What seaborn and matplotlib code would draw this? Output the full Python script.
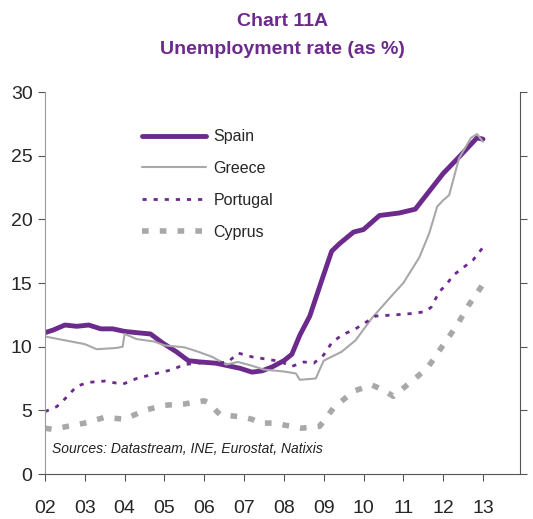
import numpy as np
import pandas as pd
import seaborn as sns
import matplotlib.pyplot as plt

sns.set_style("ticks")
plt.rcParams['font.family'] = ['Liberation Sans Narrow', 'Liberation Sans', 'DejaVu Sans']

PURPLE = "#6B2A8C"
GREY = "#A8A8A8"

# values (year, unemployment %)
spain_x = [2002.0, 2002.2, 2002.5, 2002.8, 2003.1, 2003.4, 2003.7, 2004.0, 2004.3, 2004.65,
           2004.95, 2005.3, 2005.6, 2005.9, 2006.3, 2006.6, 2006.9, 2007.2, 2007.45, 2007.7,
           2008.0, 2008.2, 2008.4, 2008.65, 2008.95, 2009.2, 2009.4, 2009.75, 2010.0, 2010.4,
           2010.9, 2011.3, 2011.6, 2012.0, 2012.4, 2012.85, 2013.0]
spain_y = [11.1, 11.3, 11.7, 11.6, 11.7, 11.4, 11.4, 11.2, 11.1, 11.0,
           10.3, 9.6, 8.9, 8.8, 8.7, 8.5, 8.3, 8.0, 8.1, 8.4,
           8.9, 9.4, 10.9, 12.4, 15.2, 17.5, 18.1, 19.0, 19.2, 20.3,
           20.5, 20.8, 22.0, 23.6, 24.9, 26.4, 26.3]

greece_x = [2002.0, 2002.5, 2003.0, 2003.3, 2003.8, 2003.95, 2004.0, 2004.3, 2004.75, 2005.0,
            2005.5, 2005.85, 2006.2, 2006.55, 2006.85, 2007.2, 2007.5, 2008.0, 2008.3, 2008.4,
            2008.8, 2009.0, 2009.45, 2009.8, 2010.2, 2010.65, 2011.0, 2011.4, 2011.65, 2011.85,
            2012.0, 2012.15, 2012.4, 2012.7, 2012.85, 2013.0]
greece_y = [10.8, 10.5, 10.2, 9.8, 9.9, 10.0, 11.0, 10.6, 10.4, 10.1,
            9.95, 9.6, 9.2, 8.6, 8.8, 8.5, 8.2, 8.05, 7.9, 7.4,
            7.5, 8.9, 9.6, 10.5, 12.2, 13.8, 15.0, 17.0, 18.9, 21.0,
            21.5, 21.9, 24.8, 26.4, 26.7, 26.1]

portugal_x = [2002.0, 2002.3, 2002.5, 2002.8, 2003.1, 2003.5, 2003.95, 2004.3, 2004.8, 2005.2,
              2005.5, 2006.0, 2006.3, 2006.6, 2006.85, 2007.2, 2007.5, 2007.9, 2008.2, 2008.5,
              2008.75, 2009.0, 2009.2, 2009.45, 2009.8, 2010.05, 2010.3, 2010.8, 2011.2, 2011.55,
              2011.7, 2011.9, 2012.1, 2012.25, 2012.5, 2012.75, 2013.0]
portugal_y = [4.9, 5.3, 5.9, 6.9, 7.2, 7.3, 7.05, 7.5, 7.9, 8.2,
              8.6, 8.75, 8.7, 8.8, 9.5, 9.2, 9.05, 8.85, 8.45, 8.8,
              8.7, 9.35, 10.3, 10.9, 11.4, 11.9, 12.4, 12.5, 12.6, 12.75,
              13.1, 14.3, 14.95, 15.6, 16.2, 16.8, 17.8]

cyprus_x = [2002.0, 2002.2, 2002.5, 2003.0, 2003.5, 2004.0, 2004.5, 2005.0, 2005.5, 2006.0,
            2006.1, 2006.4, 2006.9, 2007.2, 2007.4, 2007.8, 2008.0, 2008.45, 2008.9, 2009.25,
            2009.75, 2010.2, 2010.5, 2010.75, 2011.1, 2011.6, 2011.95, 2012.35, 2012.65, 2013.0]
cyprus_y = [3.6, 3.5, 3.7, 4.0, 4.45, 4.3, 5.0, 5.4, 5.5, 5.75,
            5.6, 4.65, 4.5, 4.3, 4.0, 4.0, 3.85, 3.6, 3.75, 5.2,
            6.5, 7.0, 6.6, 6.1, 7.0, 8.3, 9.9, 11.7, 13.3, 14.9]

year_ticks = list(range(2002, 2014))
year_labels = [f"{y % 100:02d}" for y in year_ticks]

fig = plt.figure(figsize=(5.33, 5.19), dpi=100)
ax = fig.add_axes([0.0844, 0.0867, 0.8912, 0.736])

sns.lineplot(x=spain_x, y=spain_y, ax=ax, color=PURPLE, lw=3.5, label="Spain")
sns.lineplot(x=greece_x, y=greece_y, ax=ax, color=GREY, lw=1.5, label="Greece")
sns.lineplot(x=portugal_x, y=portugal_y, ax=ax, color=PURPLE, lw=2, label="Portugal",
             dashes=False, linestyle=(0, (1.5, 2.5)))
sns.lineplot(x=cyprus_x, y=cyprus_y, ax=ax, color=GREY, lw=4, label="Cyprus",
             dashes=False, linestyle=(0, (1.2, 2.0)))

ax.set_xlim(2002, 2013.93)
ax.set_ylim(0, 30)
ax.set_yticks([0, 5, 10, 15, 20, 25, 30])
ax.set_xticks(year_ticks)
ax.set_xticklabels(year_labels)
ax.tick_params(axis='y', left=True, right=True, labelright=False, direction='out',
               length=5, labelsize=14, pad=4, color="#555555")
ax.tick_params(axis='x', direction='out', length=5, labelsize=14, pad=14, color="#555555")
for side in ["left", "right", "bottom"]:
    ax.spines[side].set_visible(True)
    ax.spines[side].set_color("#555555")
ax.spines["left"].set_color("#999999")
ax.spines["top"].set_visible(False)

leg = ax.legend(loc="upper left", bbox_to_anchor=(0.175, 0.94), frameon=False,
                fontsize=11.5, handlelength=4.0, handletextpad=0.45, labelspacing=1.05)

ax.text(0.015, 0.055, "Sources: Datastream, INE, Eurostat, Natixis", transform=ax.transAxes,
        fontsize=10, style="italic", color="#222222")

fig.text(0.53, 0.958, "Chart 11A", ha="center", va="center", fontsize=14,
         fontweight="bold", color=PURPLE)
fig.text(0.53, 0.904, "Unemployment rate (as %)", ha="center", va="center", fontsize=14,
         fontweight="bold", color=PURPLE)

fig.savefig("out.png", dpi=100)
